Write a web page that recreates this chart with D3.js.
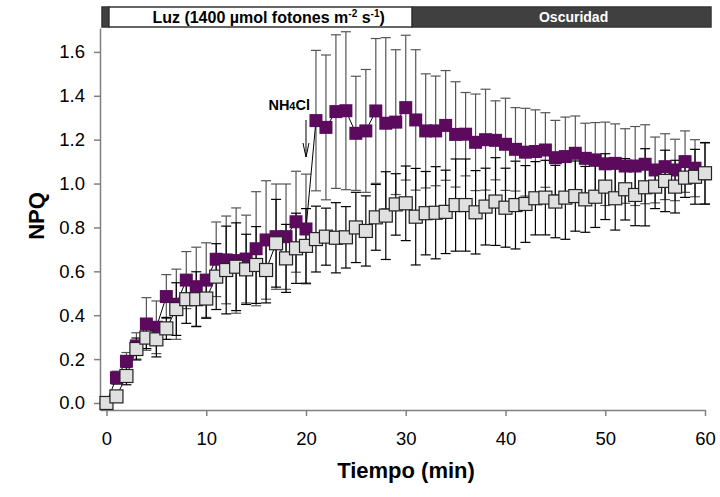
<!DOCTYPE html>
<html>
<head>
<meta charset="utf-8">
<script src="https://cdn.jsdelivr.net/npm/d3@7"></script>
<style>
    body { margin: 0; background: #fff; }
    svg { font-family: "Liberation Sans", Arial, sans-serif; }
    .axis path, .axis line { stroke: #808080; stroke-width: 1.5px; }
    .axis text { font-size: 18.5px; fill: #000; }
</style>
</head>
<body>
<div id="chart"></div>
<script>

// time points (min)
let times = d3.range(0, 61);

// NH4Cl series (purple)
let nh4Mean = [0.0, 0.115, 0.19, 0.26, 0.36, 0.345, 0.485, 0.45, 0.56, 0.53,
    0.56, 0.655, 0.652, 0.649, 0.656, 0.703, 0.743, 0.758, 0.758, 0.826,
    0.793, 1.287, 1.256, 1.328, 1.332, 1.229, 1.24, 1.331, 1.275, 1.28,
    1.346, 1.29, 1.24, 1.24, 1.265, 1.224, 1.225, 1.188, 1.2, 1.197,
    1.179, 1.156, 1.143, 1.146, 1.153, 1.118, 1.123, 1.138, 1.115, 1.108,
    1.09, 1.092, 1.08, 1.08, 1.088, 1.062, 1.077, 1.062, 1.1, 1.07, 1.045];
let nh4Err = [0.01, 0.03, 0.04, 0.06, 0.12, 0.12, 0.10, 0.16, 0.13, 0.18,
    0.17, 0.17, 0.2, 0.24, 0.2, 0.26, 0.27, 0.24, 0.24, 0.23,
    0.25, 0.32, 0.33, 0.35, 0.36, 0.26, 0.28, 0.33, 0.39, 0.33,
    0.33, 0.32, 0.26, 0.25, 0.25, 0.24, 0.19, 0.22, 0.23, 0.18,
    0.21, 0.19, 0.2, 0.19, 0.17, 0.17, 0.18, 0.17, 0.16, 0.17,
    0.19, 0.18, 0.17, 0.18, 0.18, 0.15, 0.15, 0.14, 0.14, 0.13, 0.14];

// control series (grey)
let ctrlMean = [0.0, 0.03, 0.123, 0.246, 0.298, 0.29, 0.34, 0.428, 0.473, 0.473,
    0.476, 0.576, 0.606, 0.621, 0.609, 0.629, 0.606, 0.728, 0.659, 0.705,
    0.716, 0.747, 0.758, 0.753, 0.755, 0.8, 0.784, 0.846, 0.854, 0.905,
    0.91, 0.849, 0.865, 0.867, 0.871, 0.902, 0.902, 0.869, 0.895, 0.918,
    0.89, 0.902, 0.907, 0.933, 0.936, 0.918, 0.936, 0.943, 0.928, 0.94,
    0.986, 0.933, 0.974, 0.948, 0.983, 0.986, 1.012, 0.986, 1.027, 1.031, 1.047];
let ctrlErr = [0.01, 0.02, 0.04, 0.05, 0.05, 0.08, 0.05, 0.12, 0.11, 0.125,
    0.09, 0.15, 0.2, 0.2, 0.16, 0.175, 0.15, 0.2, 0.155, 0.16,
    0.17, 0.15, 0.13, 0.16, 0.14, 0.16, 0.16, 0.15, 0.2, 0.14,
    0.17, 0.22, 0.19, 0.21, 0.19, 0.21, 0.21, 0.19, 0.175, 0.2,
    0.18, 0.2, 0.175, 0.167, 0.17, 0.165, 0.19, 0.16, 0.15, 0.14,
    0.15, 0.145, 0.14, 0.14, 0.176, 0.10, 0.14, 0.12, 0.09, 0.125, 0.14];

// light / dark periods for the top bar (min)
let periods = [
    {label: "", start: -0.45, end: 0.25, dark: true},
    {label: "light", start: 0.25, end: 30.65, dark: false},
    {label: "Oscuridad", start: 30.65, end: 60.6, dark: true}
];

let xTicks = [0, 10, 20, 30, 40, 50, 60];
let yTicks = [0, 0.2, 0.4, 0.6, 0.8, 1.0, 1.2, 1.4, 1.6];

// annotation
let nh4Time = 20;

let width = 720, height = 497;

let svg = d3.select("#chart").append("svg")
    .attr("width", width)
    .attr("height", height);

let x = d3.scaleLinear()
    .domain([-0.65, 60])
    .range([100, 705]);

let y = d3.scaleLinear()
    .domain([-0.032, 1.709])
    .range([410, 28]);

// axes
svg.append("g")
    .attr("class", "axis")
    .attr("transform", "translate(0,410)")
    .call(d3.axisBottom(x).tickValues(xTicks).tickSize(6).tickSizeOuter(0).tickPadding(16).tickFormat(d3.format("d")));

svg.append("g")
    .attr("class", "axis")
    .attr("transform", "translate(100,0)")
    .call(d3.axisLeft(y).tickValues(yTicks).tickSize(6).tickSizeOuter(0).tickPadding(9).tickFormat(d3.format(".1f")));

// top light/dark bar
let bar = svg.append("g");
periods.forEach(p => {
    bar.append("rect")
        .attr("x", x(p.start))
        .attr("y", 7)
        .attr("width", x(p.end) - x(p.start))
        .attr("height", 20)
        .attr("fill", p.dark ? "#404040" : "#fff")
        .attr("stroke", "#333")
        .attr("stroke-width", 1.5);
});

let luzText = bar.append("text")
    .attr("x", (x(periods[1].start) + x(periods[1].end)) / 2 + 8)
    .attr("y", 23)
    .attr("text-anchor", "middle")
    .style("font-size", "16px")
    .style("font-weight", "bold");
luzText.append("tspan").text("Luz (1400 µmol fotones m");
luzText.append("tspan").attr("dy", -6).style("font-size", "10px").text("-2");
luzText.append("tspan").attr("dy", 6).text(" s");
luzText.append("tspan").attr("dy", -6).style("font-size", "10px").text("-1");
luzText.append("tspan").attr("dy", 6).text(")");

bar.append("text")
    .attr("x", (x(periods[2].start) + x(periods[2].end)) / 2 + 12)
    .attr("y", 22)
    .attr("text-anchor", "middle")
    .attr("fill", "#fff")
    .style("font-size", "14px")
    .style("font-weight", "bold")
    .text("Oscuridad");

// data series
let nh4 = times.map((t, i) => ({t: t, v: nh4Mean[i], e: nh4Err[i]}));
let ctrl = times.map((t, i) => ({t: t, v: ctrlMean[i], e: ctrlErr[i]}));

function drawErrors(data, color) {
    let g = svg.append("g").attr("stroke", color).attr("stroke-width", 1.2);
    data.forEach(d => {
        g.append("line")
            .attr("x1", x(d.t)).attr("x2", x(d.t))
            .attr("y1", y(d.v - d.e)).attr("y2", y(d.v + d.e));
        [d.v - d.e, d.v + d.e].forEach(c => {
            g.append("line")
                .attr("x1", x(d.t) - 5).attr("x2", x(d.t) + 5)
                .attr("y1", y(c)).attr("y2", y(c));
        });
    });
}

drawErrors(nh4, "#555");
drawErrors(ctrl, "#000");

let line = d3.line()
    .x(d => x(d.t))
    .y(d => y(d.v));

svg.append("path").datum(nh4)
    .attr("d", line).attr("fill", "none").attr("stroke", "#000").attr("stroke-width", 1);
svg.append("path").datum(ctrl)
    .attr("d", line).attr("fill", "none").attr("stroke", "#000").attr("stroke-width", 1);

svg.selectAll(".nh4")
    .data(nh4)
    .enter()
    .append("rect")
    .attr("class", "nh4")
    .attr("x", d => x(d.t) - 6.5)
    .attr("y", d => y(d.v) - 6.5)
    .attr("width", 13)
    .attr("height", 13)
    .attr("fill", "#5c0a5e");

svg.selectAll(".ctrl")
    .data(ctrl)
    .enter()
    .append("rect")
    .attr("class", "ctrl")
    .attr("x", d => x(d.t) - 6.5)
    .attr("y", d => y(d.v) - 6.5)
    .attr("width", 13)
    .attr("height", 13)
    .attr("fill", "#e0e0e0")
    .attr("stroke", "#222")
    .attr("stroke-width", 1.2);

// NH4Cl annotation
let ann = svg.append("text")
    .attr("x", x(nh4Time) + 4)
    .attr("y", 110)
    .attr("text-anchor", "end")
    .style("font-size", "14.5px")
    .style("font-weight", "bold");
ann.append("tspan").text("NH");
ann.append("tspan").style("font-size", "11px").text("4");
ann.append("tspan").text("Cl");

svg.append("line")
    .attr("x1", x(nh4Time)).attr("x2", x(nh4Time))
    .attr("y1", 120).attr("y2", 157)
    .attr("stroke", "#000").attr("stroke-width", 1);
svg.append("path")
    .attr("d", `M${x(nh4Time) - 3},${143} L${x(nh4Time)},${157} L${x(nh4Time) + 3},${143}`)
    .attr("fill", "none").attr("stroke", "#000").attr("stroke-width", 1);

// axis titles
svg.append("text")
    .attr("x", 406)
    .attr("y", 478)
    .attr("text-anchor", "middle")
    .style("font-size", "22px")
    .style("font-weight", "bold")
    .text("Tiempo (min)");

svg.append("text")
    .attr("transform", "translate(44,216) rotate(-90)")
    .attr("text-anchor", "middle")
    .style("font-size", "22px")
    .style("font-weight", "bold")
    .text("NPQ");

</script>
</body>
</html>
